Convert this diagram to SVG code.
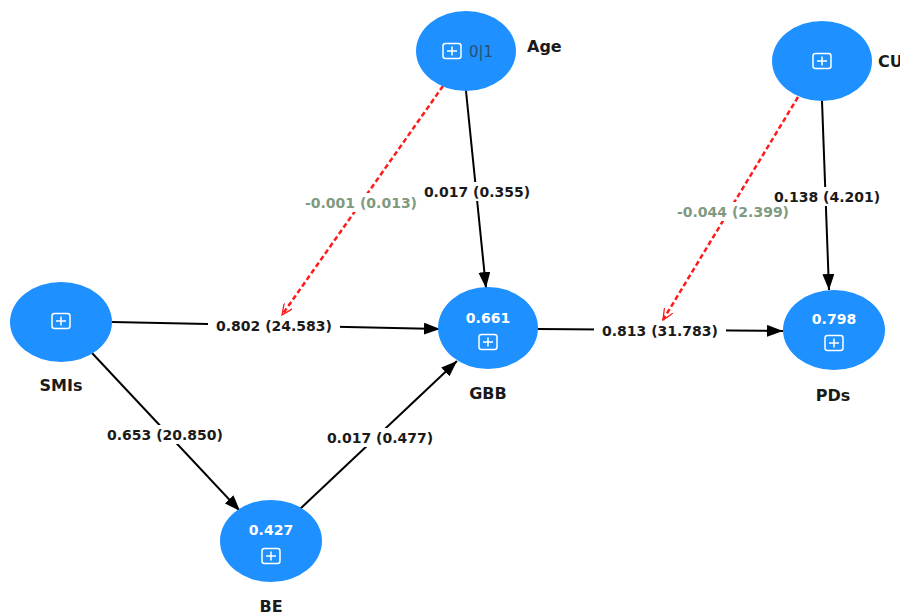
<svg xmlns="http://www.w3.org/2000/svg" width="900" height="616" viewBox="0 0 900 616">
<defs>
<style>
.node{fill:#1e90ff;}
.val{font-family:"DejaVu Sans",sans-serif;font-weight:bold;font-size:14px;fill:#ffffff;text-anchor:middle;}
.lbl{font-family:"DejaVu Sans",sans-serif;font-weight:bold;font-size:16px;fill:#1a1a1a;text-anchor:middle;}
.lbs{font-family:"DejaVu Sans",sans-serif;font-weight:bold;font-size:16px;fill:#1a1a1a;text-anchor:start;}
.el{font-family:"DejaVu Sans",sans-serif;font-weight:bold;font-size:14px;fill:#1a1a1a;text-anchor:middle;}
.eg{font-family:"DejaVu Sans",sans-serif;font-weight:bold;font-size:14px;fill:#7f9a80;text-anchor:middle;}
.edge{stroke:#000;stroke-width:2;fill:none;}
.mod{stroke:#ff1a1a;stroke-width:2.5;stroke-dasharray:5 3;fill:none;}
.bg{fill:#ffffff;}
.icon rect{fill:none;stroke:#ffffff;stroke-width:1.5;}
.icon path{stroke:#ffffff;stroke-width:1.5;fill:none;}
</style>
<marker id="ah" markerWidth="16" markerHeight="12" refX="16" refY="6" orient="auto" markerUnits="userSpaceOnUse">
<path d="M0,0 L16,6 L0,12 Z" fill="#000"/>
</marker>
<marker id="ar" markerWidth="12" markerHeight="10" refX="11" refY="5" orient="auto" markerUnits="userSpaceOnUse">
<path d="M0,0 L11,5 L0,10" fill="none" stroke="#ff1a1a" stroke-width="1.3"/>
</marker>
<g id="ic" class="icon">
<rect x="-9" y="-7.5" width="18" height="15" rx="2.5"/>
<path d="M-5,0 H5 M0,-4.5 V4.5"/>
</g>
</defs>
<rect width="900" height="616" fill="#ffffff"/>

<g id="connectors">
<line class="edge" x1="112" y1="322" x2="440" y2="329" marker-end="url(#ah)"/>
<line class="edge" x1="538" y1="329" x2="783" y2="331" marker-end="url(#ah)"/>
<line class="edge" x1="466" y1="91" x2="486" y2="288" marker-end="url(#ah)"/>
<line class="edge" x1="822" y1="101" x2="829" y2="290" marker-end="url(#ah)"/>
<line class="edge" x1="92" y1="353" x2="240" y2="511" marker-end="url(#ah)"/>
<line class="edge" x1="300" y1="509" x2="457" y2="361" marker-end="url(#ah)"/>
<line class="mod" x1="443" y1="86" x2="282" y2="315" marker-end="url(#ar)"/>
<line class="mod" x1="798" y1="97" x2="663" y2="320" marker-end="url(#ar)"/>

<rect class="bg" x="208" y="316" width="132" height="19"/>
<text class="el" x="274" y="331">0.802 (24.583)</text>
<rect class="bg" x="594" y="321" width="132" height="19"/>
<text class="el" x="660" y="336">0.813 (31.783)</text>
<rect class="bg" x="418" y="182" width="118" height="19"/>
<text class="el" x="477" y="197">0.017 (0.355)</text>
<rect class="bg" x="768" y="187" width="118" height="19"/>
<text class="el" x="827" y="202">0.138 (4.201)</text>
<rect class="bg" x="99" y="425" width="132" height="19"/>
<text class="el" x="165" y="440">0.653 (20.850)</text>
<rect class="bg" x="321" y="428" width="118" height="19"/>
<text class="el" x="380" y="443">0.017 (0.477)</text>
<rect class="bg" x="298" y="193" width="126" height="19"/>
<text class="eg" x="361" y="208">-0.001 (0.013)</text>
<rect class="bg" x="670" y="202" width="126" height="19"/>
<text class="eg" x="733" y="217">-0.044 (2.399)</text>
</g>

<g id="node-age">
<ellipse class="node" cx="466" cy="51" rx="50" ry="40"/>
<use href="#ic" x="452" y="51"/>
<text x="469" y="57" font-family="DejaVu Sans, sans-serif" font-size="15" fill="#2d4f6e">0|1</text>
<text class="lbs" x="527" y="52">Age</text>
</g>

<g id="node-cu">
<ellipse class="node" cx="822" cy="61" rx="50" ry="40"/>
<use href="#ic" x="822" y="61"/>
<text class="lbs" x="878" y="67">CU</text>
</g>

<g id="node-smis">
<ellipse class="node" cx="61" cy="322" rx="51" ry="40"/>
<use href="#ic" x="61" y="321"/>
<text class="lbl" x="61" y="391">SMIs</text>
</g>

<g id="node-gbb">
<ellipse class="node" cx="488" cy="328" rx="50" ry="41"/>
<text class="val" x="488" y="323">0.661</text>
<use href="#ic" x="488" y="342"/>
<text class="lbl" x="488" y="399">GBB</text>
</g>

<g id="node-pds">
<ellipse class="node" cx="834" cy="330" rx="51" ry="40"/>
<text class="val" x="834" y="324">0.798</text>
<use href="#ic" x="834" y="343"/>
<text class="lbl" x="833" y="401">PDs</text>
</g>

<g id="node-be">
<ellipse class="node" cx="271" cy="541" rx="51" ry="41"/>
<text class="val" x="271" y="535">0.427</text>
<use href="#ic" x="271" y="556"/>
<text class="lbl" x="271" y="612">BE</text>
</g>
</svg>
